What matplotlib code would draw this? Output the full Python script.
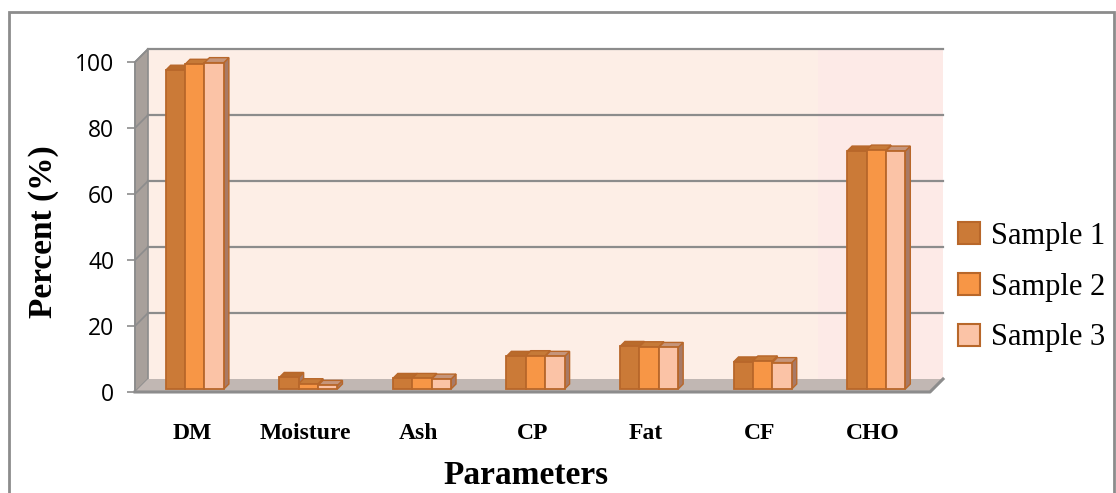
import numpy as np
import matplotlib.pyplot as plt
from matplotlib.patches import Polygon, Rectangle, Patch

# Proximate composition of the three samples
params = ['DM', 'Moisture', 'Ash', 'CP', 'Fat', 'CF', 'CHO']
sample1 = [96.6, 3.5, 3.2, 9.9, 12.9, 8.2, 72.1]
sample2 = [98.4, 1.6, 3.2, 10.1, 12.8, 8.5, 72.4]
sample3 = [98.9, 1.1, 3.0, 9.9, 12.6, 8.0, 72.1]
series = ['Sample 1', 'Sample 2', 'Sample 3']

front_cols = ['#CB7A37', '#F79646', '#FBC3A6']
top_cols = ['#B96B2C', '#C67A38', '#C6957A']
side_col = '#A87A66'
edge_col = '#B8672A'
grid_col = '#8C8C8C'

W, H, DPI = 1116, 493, 100
fig = plt.figure(figsize=(W / DPI, H / DPI), dpi=DPI)

# front plane of the 3d box
ax_l, ax_r, ax_b, ax_t = 135, 930, 392, 62
ax = fig.add_axes([ax_l / W, 1 - ax_b / H, (ax_r - ax_l) / W, (ax_b - ax_t) / H])
n = len(params)
ax.set_xlim(0, n)
ax.set_ylim(0, 100)
ax.set_facecolor('none')

# pixels per data unit, used for the depth offsets
ppx = (ax_r - ax_l) / n
ppy = (ax_b - ax_t) / 100.0
wall = 13  # depth of the box in px
wx, wy = wall / ppx, wall / ppy

# back wall, side wall and floor
ax.add_patch(Rectangle((wx, wy), n, 100, facecolor='#FDEEE6', edgecolor='none',
                       clip_on=False, zorder=0))
ax.add_patch(Rectangle((wx + 5.9, wy), n - 5.9, 100, facecolor='#FDEAE7', edgecolor='none',
                       clip_on=False, zorder=0))
ax.add_patch(Polygon([(0, 0), (0, 100), (wx, 100 + wy), (wx, wy)], closed=True,
                     facecolor='#A8A09B', edgecolor=grid_col, lw=1.2, clip_on=False, zorder=1))
ax.add_patch(Polygon([(0, 0), (n, 0), (n + wx, wy), (wx, wy)], closed=True,
                     facecolor='#C1B7B3', edgecolor='none', clip_on=False, zorder=1))
ax.plot([0, n, n + wx], [0, 0, wy], color=grid_col, lw=2.2, clip_on=False, zorder=2)

# gridlines on the back wall and their traces on the side wall
for v in range(20, 101, 20):
    ax.plot([wx, n + wx], [v + wy, v + wy], color=grid_col, lw=1.6, clip_on=False, zorder=1)
    ax.plot([0, wx], [v, v + wy], color=grid_col, lw=1.2, clip_on=False, zorder=1)

# bars with a small depth
off, depth = 3, 5
ox, oy = off / ppx, off / ppy
dx, dy = depth / ppx, depth / ppy
bw = 19.4 / ppx
x = np.arange(n) + 0.5
for j, vals in enumerate([sample1, sample2, sample3]):
    lefts = x + (j - 1.5) * bw + ox
    for xl, h in zip(lefts, vals):
        xr = xl + bw
        top = oy + h
        ax.add_patch(Polygon([(xr, oy), (xr, top), (xr + dx, top + dy), (xr + dx, oy + dy)],
                             closed=True, facecolor=side_col, edgecolor=edge_col, lw=1,
                             clip_on=False, zorder=3))
        ax.add_patch(Polygon([(xl, top), (xr, top), (xr + dx, top + dy), (xl + dx, top + dy)],
                             closed=True, facecolor=top_cols[j], edgecolor=edge_col, lw=1,
                             clip_on=False, zorder=3))
    ax.bar(lefts, vals, width=bw, bottom=oy, align='edge', color=front_cols[j],
           edgecolor=edge_col, lw=1.3, clip_on=False, zorder=3)

# axes styling
for s in ax.spines.values():
    s.set_visible(False)
ax.set_yticks(range(0, 101, 20))
ax.tick_params(axis='y', length=6, width=1.2, color=grid_col, pad=9, labelsize=16.5)
for lab in ax.get_yticklabels():
    lab.set_family(['Open Sans', 'DejaVu Sans'])
ax.plot([0, 0], [0, 100], color=grid_col, lw=1.2, clip_on=False, zorder=2)
ax.set_xticks(x)
ax.set_xticklabels(params, family='Liberation Serif', fontweight='bold', fontsize=17)
ax.tick_params(axis='x', length=0, pad=22)

fig.text(44 / W, 1 - 232 / H, 'Percent (%)', rotation=90, ha='center', va='center',
         family='Liberation Serif', fontweight='bold', fontsize=24)
fig.text(526 / W, 9 / H, 'Parameters', ha='center', va='baseline',
         family='Liberation Serif', fontweight='bold', fontsize=24)

handles = [Patch(facecolor=c, edgecolor=edge_col, lw=1.5) for c in front_cols]
fig.legend(handles, series, loc='center left', bbox_to_anchor=(958 / W, 1 - 287 / H),
           frameon=False, prop={'family': 'Liberation Serif', 'size': 22},
           handlelength=0.72, handleheight=0.72, handletextpad=0.35, labelspacing=0.72,
           borderaxespad=0, borderpad=0)

# outer chart border
fig.add_artist(Rectangle((9 / W, -0.1), 1105 / W, 481 / H + 0.1, transform=fig.transFigure,
                         facecolor='none', edgecolor=grid_col, lw=2))

fig.savefig('out.png', dpi=DPI)
